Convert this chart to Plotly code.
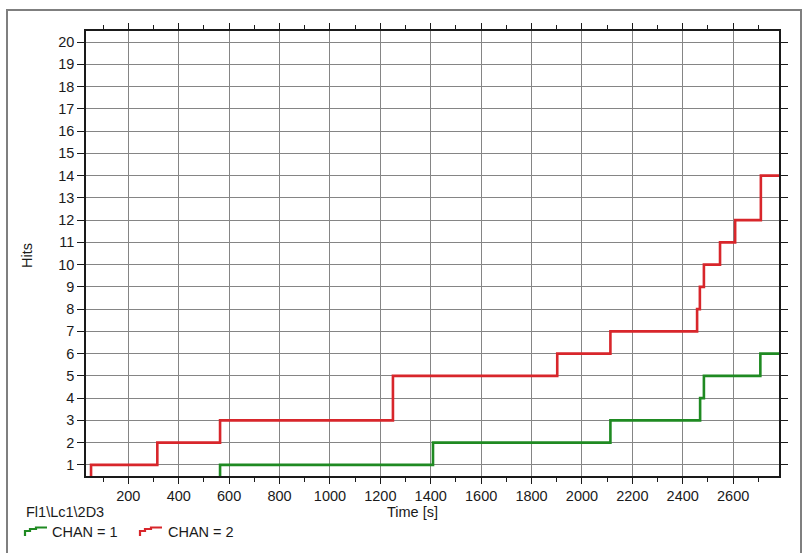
import plotly.graph_objects as go

# Cumulative hit counts per channel: time of each step [s] and hits after it
chan1_time = [564, 1409, 2113, 2469, 2484, 2708]
chan1_hits = [1, 2, 3, 4, 5, 6]

chan2_time = [52, 315, 564, 1250, 1902, 2113, 2457, 2468, 2484, 2548, 2608, 2710]
chan2_hits = [1, 2, 3, 5, 6, 7, 8, 9, 10, 11, 12, 14]

x_ticks = list(range(200, 2601, 200))
y_ticks = list(range(1, 21))

X_MIN, X_MAX = 32, 2782
Y_MIN, Y_MAX = 0.5, 20.5

GREEN = "#1f8a22"
RED = "#d8262b"
FONT = "Liberation Sans, Arial, sans-serif"
TEXT = "#1a1a1a"

W, H = 805, 553
L, R, T, B = 86, 26, 31, 77


def px(xp):
    return (xp - L) / (W - L - R)


def py(yp):
    return (H - B - yp) / (H - T - B)


def steps(times, hits):
    xs = [0] + list(times) + [X_MAX + 50]
    ys = [0] + list(hits) + [hits[-1]]
    return xs, ys


fig = go.Figure()
for name, t, h, c in [("CHAN = 1", chan1_time, chan1_hits, GREEN),
                      ("CHAN = 2", chan2_time, chan2_hits, RED)]:
    xs, ys = steps(t, h)
    fig.add_trace(go.Scatter(x=xs, y=ys, mode="lines", name=name,
                             line=dict(color=c, width=2.6, shape="hv"),
                             showlegend=False))

axis_common = dict(showline=True, linecolor="#1a1a1a", linewidth=1.5,
                   mirror="ticks", ticks="outside", tickcolor="#1a1a1a",
                   showgrid=True, gridcolor="#858585", gridwidth=1,
                   zeroline=False, tickfont=dict(family=FONT, size=14.5, color=TEXT))

fig.update_xaxes(range=[X_MIN, X_MAX], tickvals=x_ticks, ticklen=6,
                 minor=dict(dtick=100, tick0=0, ticks="outside", ticklen=4,
                            tickcolor="#1a1a1a", showgrid=False),
                 **axis_common)
fig.update_yaxes(range=[Y_MIN, Y_MAX], tickvals=y_ticks, ticklen=7,
                 **axis_common)

annotations = [
    dict(text="Hits", x=px(27), y=py(256), textangle=-90),
    dict(text="Time [s]", x=px(412), y=py(512)),
    dict(text="Fl1\\Lc1\\2D3", x=px(24), y=py(512), xanchor="left"),
    dict(text="CHAN = 1", x=px(50), y=py(532), xanchor="left"),
    dict(text="CHAN = 2", x=px(166), y=py(532), xanchor="left"),
]
for a in annotations:
    a.setdefault("xanchor", "center")
    fig.add_annotation(xref="paper", yref="paper", showarrow=False,
                       yanchor="middle",
                       font=dict(family=FONT, size=14.5, color=TEXT), **a)


def icon_path(x0, y0):
    pts = [(0, 0), (0, -5), (5, -5), (5, -7), (11, -7), (11, -8.5), (22, -8.5)]
    return "M " + " L ".join(f"{px(x0 + dx)} {py(y0 + dy)}" for dx, dy in pts)


shapes = [
    dict(type="path", path=icon_path(25, 536), line=dict(color=GREEN, width=2.2)),
    dict(type="path", path=icon_path(140, 536), line=dict(color=RED, width=2.2)),
    dict(type="rect", x0=px(7), x1=px(801), y0=py(600), y1=py(10),
         line=dict(color="#7f7f7f", width=2), fillcolor="rgba(0,0,0,0)"),
]
for s in shapes:
    fig.add_shape(xref="paper", yref="paper", **s)

fig.update_layout(width=W, height=H, margin=dict(l=L, r=R, t=T, b=B),
                  plot_bgcolor="white", paper_bgcolor="white",
                  showlegend=False)

fig.write_html("out.html")
